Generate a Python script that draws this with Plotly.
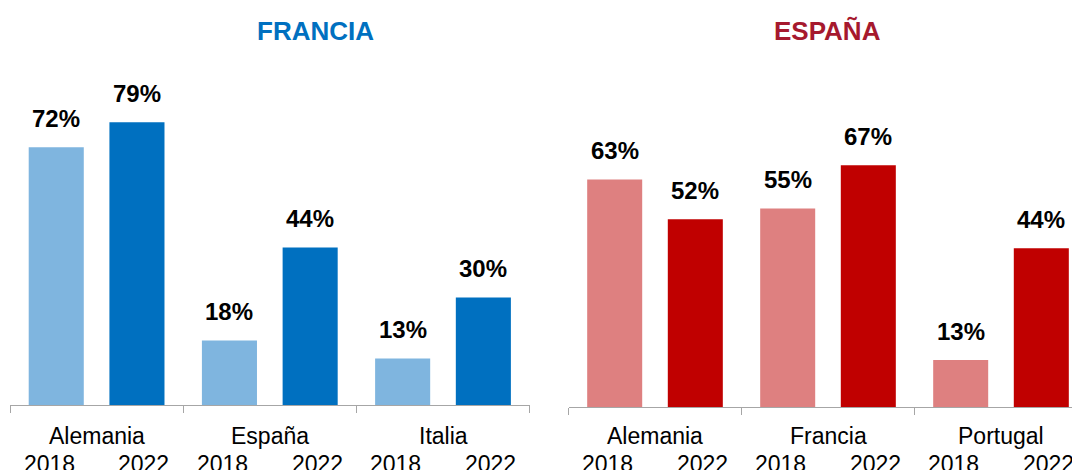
import plotly.graph_objects as go

years = ["2018", "2022"]

fr_title = "FRANCIA"
fr_countries = ["Alemania", "España", "Italia"]
fr_2018 = [72, 18, 13]
fr_2022 = [79, 44, 30]

es_title = "ESPAÑA"
es_countries = ["Alemania", "Francia", "Portugal"]
es_2018 = [63, 55, 13]
es_2022 = [52, 67, 44]

FONT = "Liberation Sans, Arial, sans-serif"
GRAY = "#A6A6A6"
W, H = 1072, 470


def px(v):
    return v / W


def py(v):
    return 1 - v / H


panels = [
    dict(title=fr_title, countries=fr_countries, v18=fr_2018, v22=fr_2022,
         c18="#7FB5DF", c22="#0070C0", tcol="#0070C0", xa="x", ya="y",
         title_x=315.5),
    dict(title=es_title, countries=es_countries, v18=es_2018, v22=es_2022,
         c18="#DE8080", c22="#C00000", tcol="#A6192E", xa="x2", ya="y2",
         title_x=827),
]

fig = go.Figure()
annotations = []
BW = 0.636
SH = 0.034
YS = 0.045  # year label spread

for p in panels:
    n = len(p["countries"])
    pos18 = [2 * i for i in range(n)]
    pos22 = [2 * i + 1 for i in range(n)]
    fig.add_trace(go.Bar(x=pos18, y=p["v18"], width=BW, offset=-BW / 2 + SH,
                         marker=dict(color=p["c18"], line=dict(width=0)),
                         xaxis=p["xa"], yaxis=p["ya"], showlegend=False, hoverinfo="skip"))
    fig.add_trace(go.Bar(x=pos22, y=p["v22"], width=BW, offset=-BW / 2 - SH,
                         marker=dict(color=p["c22"], line=dict(width=0)),
                         xaxis=p["xa"], yaxis=p["ya"], showlegend=False, hoverinfo="skip"))
    for xs, vs, sh in ((pos18, p["v18"], SH), (pos22, p["v22"], -SH)):
        for x, v in zip(xs, vs):
            annotations.append(dict(x=x + sh, y=v, xref=p["xa"], yref=p["ya"],
                                    text=f"<b>{v}%</b>", showarrow=False,
                                    xanchor="center", yanchor="middle", yshift=29,
                                    font=dict(family=FONT, size=24, color="#000000")))
    for i, c in enumerate(p["countries"]):
        annotations.append(dict(x=2 * i + 0.5, y=py(436), xref=p["xa"], yref="paper",
                                text=c, showarrow=False, xanchor="center", yanchor="middle",
                                font=dict(family=FONT, size=23, color="#000000")))
        for j, yr in enumerate(years):
            annotations.append(dict(x=2 * i + j + (YS if j else -YS), y=py(464),
                                    xref=p["xa"], yref="paper",
                                    text=yr, showarrow=False, xanchor="center", yanchor="middle",
                                    font=dict(family=FONT, size=23, color="#000000")))
    annotations.append(dict(x=px(p["title_x"]), y=py(31), xref="paper", yref="paper",
                            text=f"<b>{p['title']}</b>", showarrow=False,
                            xanchor="center", yanchor="middle",
                            font=dict(family=FONT, size=26, color=p["tcol"])))

xcommon = dict(showgrid=False, zeroline=False, showline=True, linecolor=GRAY, linewidth=1,
               ticks="outside", ticklen=7, tickcolor=GRAY, tickwidth=1,
               showticklabels=False, tickmode="array", fixedrange=True)

fig.update_layout(
    width=W, height=H,
    margin=dict(l=0, r=0, t=0, b=0),
    paper_bgcolor="white", plot_bgcolor="white",
    barmode="overlay",
    xaxis=dict(domain=[px(10), px(529.6)], range=[-0.5, 5.5],
               tickvals=[-0.5, 1.5, 3.5, 5.5], anchor="y", **xcommon),
    yaxis=dict(domain=[py(405), py(40)], range=[0, 365 / 3.58],
               visible=False, anchor="x", fixedrange=True),
    xaxis2=dict(domain=[px(568.5), 1.0], range=[-0.5, -0.5 + (W - 568.5) / 86.5],
                tickvals=[-0.5, 1.5, 3.5, 5.5], anchor="y2", **xcommon),
    yaxis2=dict(domain=[py(407), py(40)], range=[0, 367 / 3.61],
                visible=False, anchor="x2", fixedrange=True),
    annotations=annotations,
)

fig.write_html(
    "out.html",
    config={"displayModeBar": False},
    post_script="document.body.style.margin='0';document.body.style.overflow='hidden';",
)
